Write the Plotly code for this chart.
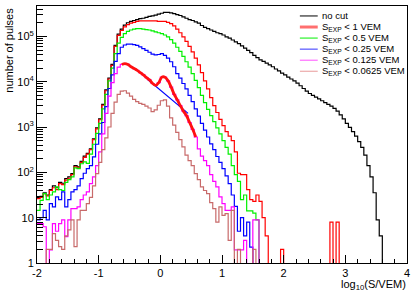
import plotly.graph_objects as go

# ---- binning of the histograms: log10(S/VEM) from -2 to 4, bin width 0.05 ----
BIN_LO = -2.0
BIN_W = 0.05
N_BINS = 120

# ---- log10(number of pulses) per bin (None = empty bin) ----
nocut_log10 = [
    1.45, 1.47, 1.55, 1.50, 1.62, 1.70, 1.66, 1.78, 1.76, 1.86,
    1.90, 1.97, 2.15, 2.12, 2.24, 2.36, 2.42, 2.52, 2.74, 2.98,
    3.18, 3.50, 3.82, 4.08, 4.38, 4.80, 5.05, 5.16, 5.25, 5.30,
    5.33, 5.35, 5.37, 5.39, 5.40, 5.42, 5.44, 5.45, 5.47, 5.49,
    5.51, 5.53, 5.53, 5.52, 5.50, 5.48, 5.46, 5.43, 5.40, 5.37,
    5.35, 5.32, 5.29, 5.24, 5.20, 5.17, 5.14, 5.11, 5.08, 5.06,
    5.03, 4.99, 4.96, 4.92, 4.88, 4.84, 4.79, 4.74, 4.69, 4.64,
    4.58, 4.53, 4.48, 4.45, 4.41, 4.37, 4.33, 4.28, 4.24, 4.19,
    4.15, 4.10, 4.06, 4.02, 3.97, 3.91, 3.85, 3.79, 3.74, 3.70,
    3.66, 3.62, 3.58, 3.54, 3.50, 3.46, 3.41, 3.35, 3.27, 3.18,
    3.08, 2.99, 2.90, 2.80, 2.68, 2.55, 2.38, 2.15, 1.90, 1.55,
    0.95, 0.60,
]

lt1_log10 = [
    1.42, 1.45, 1.53, 1.48, 1.60, 1.66, 1.62, 1.75, 1.73, 1.83,
    1.87, 1.95, 2.12, 2.10, 2.22, 2.33, 2.40, 2.50, 2.72, 2.96,
    3.16, 3.48, 3.80, 4.06, 4.36, 4.78, 5.02, 5.13, 5.21, 5.26,
    5.29, 5.31, 5.33, 5.34, 5.34, 5.34, 5.34, 5.34, 5.34, 5.33,
    5.33, 5.33, 5.31, 5.28, 5.23, 5.16, 5.08, 4.99, 4.89, 4.78,
    4.66, 4.52, 4.37, 4.20, 4.02, 3.84, 3.65, 3.47, 3.32, 3.17,
    3.03, 2.90, 2.80, 2.70, 2.45, 1.98, 1.95, 1.95, 1.62, 1.40,
    1.36, 1.50, 1.36, 1.00, 0.60, None, None, None, None, 0.30,
    None, None, None, None, None, None, None, None, None, None,
    None, None, None, None, None, 0.90, None, 0.90,
]

lt05_log10 = [
    1.16, 1.38, 1.53, 1.40, 1.50, 1.57, 1.68, 1.62, 1.60, 1.78,
    1.84, 1.90, 2.10, 2.08, 2.19, 2.23, 2.20, 2.40, 2.62, 2.86,
    3.08, 3.40, 3.72, 4.02, 4.30, 4.62, 4.85, 4.98, 5.06, 5.11,
    5.14, 5.16, 5.17, 5.17, 5.16, 5.15, 5.14, 5.12, 5.10, 5.08,
    5.06, 5.03, 4.99, 4.93, 4.85, 4.76, 4.67, 4.56, 4.44, 4.32,
    4.18, 4.03, 3.87, 3.70, 3.54, 3.39, 3.25, 3.12, 2.98, 2.85,
    2.70, 2.55, 2.40, 2.15, 1.95, 1.80, 1.40, 1.50, 1.15, 1.15,
    1.10, 0.95,
]

lt025_log10 = [
    0.95, 1.00, 1.16, 0.95, 1.31, 1.24, 1.46, 1.40, 1.57, 1.24,
    1.40, 1.57, 1.62, 1.70, 1.86, 1.98, 2.08, 2.15, 2.34, 2.62,
    2.85, 3.10, 3.45, 3.85, 4.15, 4.45, 4.62, 4.76, 4.81, 4.83,
    4.83, 4.82, 4.80, 4.77, 4.73, 4.69, 4.65, 4.61, 4.59, 4.60,
    4.62, 4.58, 4.52, 4.44, 4.33, 4.18, 4.08, 3.96, 3.84, 3.70,
    3.56, 3.40, 3.24, 3.08, 2.93, 2.78, 2.63, 2.50, 2.35, 2.22,
    2.08, 1.92, 1.75, 1.50, 1.25, 0.70, 1.00, 0.60, 0.90, 0.35,
]

lt0125_log10 = [
    0.87, 0.87, 0.80, None, 0.29, 0.87, 0.70, 0.87, 0.95, 0.58,
    0.95, 1.20, 1.20, 1.24, 1.40, 1.50, 1.57, 1.75, 1.90, 2.15,
    2.45, 2.85, 3.30, 3.68, 3.98, 4.18, 4.32, 4.38, 4.40, 4.38,
    4.33, 4.29, 4.25, 4.20, 4.15, 4.09, 4.04, 3.96, 3.92, 3.98,
    4.10, 4.10, 4.02, 3.88, 3.72, 3.60, 3.47, 3.35, 3.25, 3.10,
    2.95, 2.78, 2.52, 2.36, 2.26, 2.15, 1.95, 1.80, 1.68, 1.46,
    1.31, 1.16, 1.16, 1.24, 0.29, 0.29, 0.29, 0.50, None, None,
    0.95, 0.95,
]

lt00625_log10 = [
    None, None, None, 0.30, 0.30, 0.65, 0.50, 0.36, 0.30, 0.60,
    0.73, 0.95, 0.36, 0.95, 1.16, 1.16, 1.31, 1.45, 1.70, 1.97,
    2.22, 2.50, 2.76, 3.00, 3.30, 3.55, 3.72, 3.79, 3.80, 3.75,
    3.68, 3.61, 3.56, 3.52, 3.50, 3.46, 3.42, 3.34, 3.38, 3.48,
    3.58, 3.60, 3.46, 3.20, 3.04, 2.88, 2.72, 2.56, 2.38, 2.26,
    2.15, 1.97, 1.84, 1.68, 1.60, 1.53, 1.33, 1.20, 0.90, 1.24,
    1.05, 1.09, 0.50, 1.16, None, 0.30, None, None, None, None,
    0.30,
]

# thick smooth red overlay: follows the S<0.125 histogram over these bins
overlay_first_bin = 27
overlay_last_bin = 51

# thin blue straight line below the bump
fit_x = [-0.20, 0.45]
fit_counts = [1.1e4, 2.0e3]

series_names = ["no cut", "S<sub>EXP</sub> &lt; 1 VEM", "S<sub>EXP</sub> &lt; 0.5 VEM",
                "S<sub>EXP</sub> &lt; 0.25 VEM", "S<sub>EXP</sub> &lt; 0.125 VEM",
                "S<sub>EXP</sub> &lt; 0.0625 VEM"]
series_data = [nocut_log10, lt1_log10, lt05_log10, lt025_log10, lt0125_log10, lt00625_log10]
series_colors = ["#000000", "#ff0000", "#00f000", "#0000ff", "#ff00ff", "#c86a6a"]

y_tick_vals = [1, 10, 100, 1e3, 1e4, 1e5]
y_tick_text = ["1", "10", "10<sup>2</sup>", "10<sup>3</sup>", "10<sup>4</sup>", "10<sup>5</sup>"]
x_tick_vals = [-2, -1, 0, 1, 2, 3, 4]
x_tick_text = ["-2", "-1", "0", "1", "2", "3", "4"]

FLOOR = 0.1  # drawing value for empty bins (below the visible range)


def hist_xy(vals):
    vals = list(vals) + [None] * (N_BINS - len(vals))
    xs, ys = [], []
    for i, v in enumerate(vals):
        xs.append(BIN_LO + i * BIN_W)
        ys.append(10 ** v if v is not None else FLOOR)
    xs.append(BIN_LO + N_BINS * BIN_W)
    ys.append(ys[-1])
    return xs, ys


fig = go.Figure()
for vals, col in zip(series_data, series_colors):
    xs, ys = hist_xy(vals)
    fig.add_trace(go.Scatter(x=xs, y=ys, mode="lines", line=dict(color=col, width=1.2, shape="hv"),
                             hoverinfo="skip"))

fig.add_trace(go.Scatter(x=fit_x, y=fit_counts, mode="lines", line=dict(color="#0000ff", width=1.2),
                         hoverinfo="skip"))

ov_x = [BIN_LO + (i + 0.5) * BIN_W for i in range(overlay_first_bin, overlay_last_bin + 1)]
ov_y = [10 ** lt0125_log10[i] for i in range(overlay_first_bin, overlay_last_bin + 1)]
fig.add_trace(go.Scatter(x=ov_x, y=ov_y, mode="lines", line=dict(color="#ff1010", width=2.8, shape="spline"),
                         hoverinfo="skip"))

# ---- layout ----
L, R, T, B = 37, 5, 5, 33
W, H = 415, 296
PW, PH = W - L - R, H - T - B


def px2paper(px, py):
    return (px - L) / PW, (H - B - py) / PH


minor_y = [m * 10 ** d for d in range(0, 6) for m in range(2, 10)]

fig.update_layout(
    width=W, height=H, margin=dict(l=L, r=R, t=T, b=B),
    paper_bgcolor="white", plot_bgcolor="white", showlegend=False,
    font=dict(family="Liberation Sans, Arial, sans-serif", size=11, color="black"),
)
fig.update_xaxes(
    range=[-2, 4], tickmode="array", tickvals=x_tick_vals, ticktext=x_tick_text,
    ticks="inside", ticklen=8, tickwidth=1, tickcolor="black",
    minor=dict(ticks="inside", ticklen=4, tickcolor="black", tick0=-2, dtick=0.2, showgrid=False),
    showline=True, linecolor="black", linewidth=1, mirror=True,
    showgrid=False, zeroline=False, tickfont=dict(size=11),
)
fig.update_yaxes(
    type="log", range=[0, 5.67], tickmode="array", tickvals=y_tick_vals, ticktext=y_tick_text,
    ticks="inside", ticklen=10, tickwidth=1, tickcolor="black",
    minor=dict(ticks="inside", ticklen=6, tickcolor="black", tickmode="array", tickvals=minor_y, showgrid=False),
    showline=True, linecolor="black", linewidth=1, mirror=True,
    showgrid=False, zeroline=False, tickfont=dict(size=11),
)

annotations = []
shapes = []
# y title
ax_, ay_ = px2paper(8, 5)
annotations.append(dict(text="number of pulses", x=ax_, y=ay_, xref="paper", yref="paper",
                        xanchor="center", yanchor="top", textangle=-90, showarrow=False,
                        font=dict(size=11)))
# x title
ax_, ay_ = px2paper(411, 285)
annotations.append(dict(text="log<sub>10</sub>(S/VEM)", x=ax_, y=ay_, xref="paper", yref="paper",
                        xanchor="right", yanchor="middle", showarrow=False, font=dict(size=11)))

# legend
swatch_w = [1, 3, 1, 1, 1, 1]
swatch_c = ["#000000", "#ff6f6f", "#00f000", "#3030ff", "#ff50ff", "#e89a9a"]
for i, name in enumerate(series_names):
    py = 15 + 11.1 * i
    x0, y0 = px2paper(302, py)
    x1, _ = px2paper(320, py)
    shapes.append(dict(type="line", xref="paper", yref="paper", x0=x0, x1=x1, y0=y0, y1=y0,
                       line=dict(color=swatch_c[i], width=swatch_w[i])))
    tx, _ = px2paper(322, py)
    annotations.append(dict(text=name, x=tx, y=y0, xref="paper", yref="paper", xanchor="left",
                            yanchor="middle", showarrow=False, font=dict(size=9.5)))

fig.update_layout(annotations=annotations, shapes=shapes)
fig.write_html("out.html", config={"displayModeBar": False},
               post_script="document.body.style.margin='0px';")
